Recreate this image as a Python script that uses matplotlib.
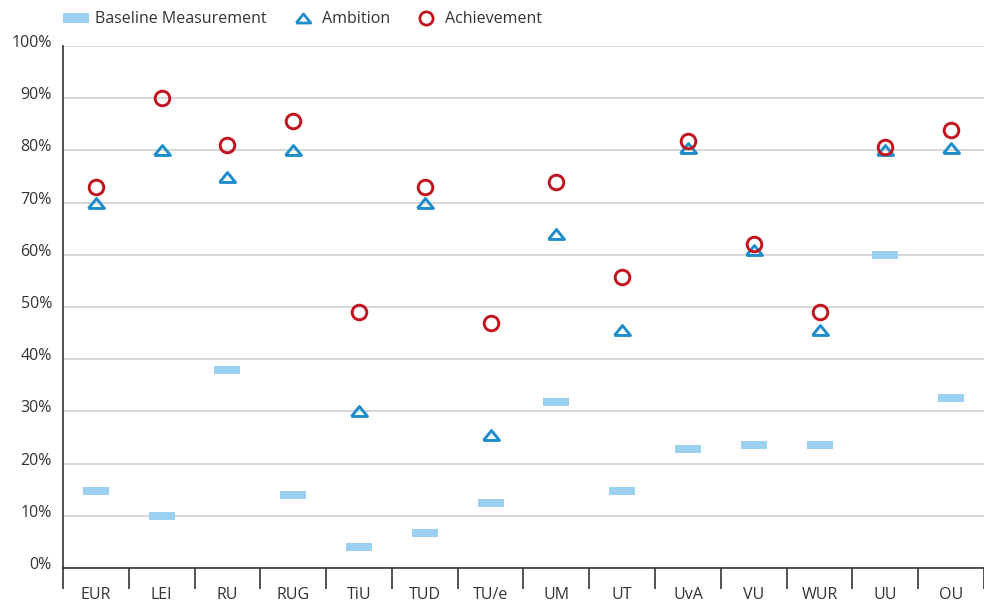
import matplotlib
matplotlib.use("Agg")
import matplotlib.pyplot as plt
import matplotlib.transforms as mtransforms
from matplotlib.patches import Patch
from matplotlib.lines import Line2D
import numpy as np

plt.rcParams['font.family'] = ['Open Sans', 'DejaVu Sans']

categories = ["EUR", "LEI", "RU", "RUG", "TiU", "TUD", "TU/e", "UM", "UT", "UvA", "VU", "WUR", "UU", "OU"]
baseline = [14.7, 10, 38, 14, 4, 6.7, 12.5, 31.8, 14.8, 22.8, 23.5, 23.5, 60, 32.5]
ambition = [70, 80, 75, 80, 30, 70, 25.5, 64, 45.5, 80.5, 61, 45.5, 80, 80.5]
achievement = [73, 90, 81, 85.6, 49, 73, 47, 74, 55.7, 81.8, 62, 49, 80.7, 84]
yticks = [0, 10, 20, 30, 40, 50, 60, 70, 80, 90, 100]
ytick_labels = [f"{v}%" for v in yticks]

c_base = "#9BD0F0"
c_amb = "#1F8CCB"
c_ach = "#C1141F"
txt = "#333333"
fs = 11.5

fig = plt.figure(figsize=(9.84, 6.02), dpi=100)
ax = fig.add_axes([63/984, 1 - 568/602, 1 - 63/984, (568 - 46)/602])

x = np.arange(len(categories))
rect = [(-3, -1), (3, -1), (3, 1), (-3, 1), (-3, -1)]
tri = [(-1, -0.62), (1, -0.62), (0, 0.62), (-1, -0.62)]
ax.plot(x, baseline, linestyle="none", marker=rect, markersize=18.7,
        markerfacecolor=c_base, markeredgewidth=0, zorder=3)
ax.plot(x, ambition, linestyle="none", marker=tri, markersize=11.5,
        markerfacecolor="none", markeredgecolor=c_amb, markeredgewidth=2.1, zorder=4)
ax.plot(x, achievement, linestyle="none", marker="o", markersize=10.5,
        markerfacecolor="none", markeredgecolor=c_ach, markeredgewidth=2.1, zorder=5)

ax.set_xlim(-0.5, len(categories) - 0.5)
ax.set_ylim(0, 100)
ax.set_yticks(yticks)
ax.set_yticklabels(ytick_labels)
ax.tick_params(axis="y", length=0, pad=8, labelsize=fs, colors=txt)
offset = mtransforms.ScaledTranslation(0, 5/100, fig.dpi_scale_trans)
for lab in ax.get_yticklabels():
    lab.set_transform(lab.get_transform() + offset)

ax.set_xticks(np.arange(-0.5, len(categories), 1.0))
ax.set_xticklabels([])
ax.set_xticks(x, minor=True)
ax.set_xticklabels(categories, minor=True)
ax.tick_params(axis="x", which="major", length=15, width=1.2, color="#333333", direction="out")
ax.tick_params(axis="x", which="minor", length=0, pad=14, labelsize=fs, labelcolor=txt)

ax.grid(axis="y", color="#d4d4d4", linewidth=1.3, zorder=0)
ax.set_axisbelow(True)
for s in ["top", "right"]:
    ax.spines[s].set_visible(False)
ax.spines["left"].set_color("#333333")
ax.spines["bottom"].set_color("#333333")
ax.spines["left"].set_linewidth(1.2)
ax.spines["bottom"].set_linewidth(1.2)

handles = [
    Patch(facecolor=c_base, edgecolor="none"),
    Line2D([], [], linestyle="none", marker=tri, markersize=10.5, markerfacecolor="none",
           markeredgecolor=c_amb, markeredgewidth=2),
    Line2D([], [], linestyle="none", marker="o", markersize=9.5, markerfacecolor="none",
           markeredgecolor=c_ach, markeredgewidth=2),
]
leg = fig.legend(handles, ["Baseline Measurement", "Ambition", "Achievement"],
                 loc="upper left", bbox_to_anchor=(49/984, 1.005), ncol=3, frameon=False,
                 fontsize=fs, handlelength=1.6, handleheight=0.55, handletextpad=0.4,
                 columnspacing=1.45, labelcolor=txt)

fig.savefig("out.png", dpi=100)
